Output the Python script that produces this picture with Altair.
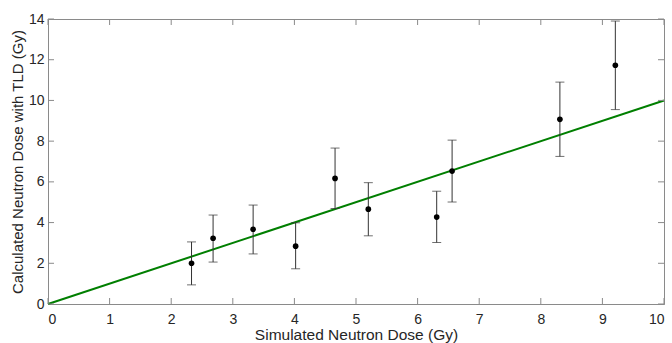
import altair as alt
import pandas as pd

sim_dose = [2.33, 2.68, 3.33, 4.02, 4.66, 5.20, 6.31, 6.56, 8.31, 9.21]
tld_dose = [2.00, 3.23, 3.67, 2.84, 6.17, 4.66, 4.27, 6.53, 9.07, 11.73]
err_low = [0.94, 2.06, 2.46, 1.73, 4.69, 3.35, 3.02, 5.01, 7.25, 9.55]
err_high = [3.05, 4.37, 4.86, 3.99, 7.66, 5.96, 5.54, 8.05, 10.90, 13.90]
fit_x = [0, 10]
fit_y = [0, 10]
x_ticks = [0, 1, 2, 3, 4, 5, 6, 7, 8, 9, 10]
y_ticks = [0, 2, 4, 6, 8, 10, 12, 14]

df = pd.DataFrame({"x": sim_dose, "y": tld_dose, "lo": err_low, "hi": err_high})
fit = pd.DataFrame({"x": fit_x, "y": fit_y})
xt = pd.DataFrame({"v": x_ticks})
yt = pd.DataFrame({"v": y_ticks})

FONT = "Liberation Sans"
AX = "#8a8a8a"
TXT = "#262626"

xs = alt.Scale(domain=[0, 10], nice=False, zero=False)
ys = alt.Scale(domain=[0, 14], nice=False, zero=False)

xaxis = alt.Axis(values=x_ticks, format="d", grid=False, ticks=False, domainColor=AX,
                 labelFont=FONT, labelFontSize=14, labelColor=TXT, labelPadding=8,
                 title="Simulated Neutron Dose (Gy)", titleFont=FONT, titleFontSize=15.5,
                 titleFontWeight="normal", titleColor=TXT, titlePadding=1)
yaxis = alt.Axis(values=y_ticks, format="d", grid=False, ticks=False, domainColor=AX,
                 labelFont=FONT, labelFontSize=14, labelColor=TXT, labelPadding=4,
                 title="Calculated Neutron Dose with TLD (Gy)", titleFont=FONT, titleFontSize=15,
                 titleFontWeight="normal", titleColor=TXT, titlePadding=3)

line = alt.Chart(fit).mark_line(color="#007f00", strokeWidth=2).encode(
    x=alt.X("x:Q", scale=xs, axis=xaxis),
    y=alt.Y("y:Q", scale=ys, axis=yaxis),
)

rules = alt.Chart(df).mark_rule(color="#333333", strokeWidth=1).encode(
    x="x:Q", y="lo:Q", y2="hi:Q")
cap_lo = alt.Chart(df).mark_tick(color="#333333", thickness=1, size=9, orient="horizontal").encode(
    x="x:Q", y="lo:Q")
cap_hi = alt.Chart(df).mark_tick(color="#333333", thickness=1, size=9, orient="horizontal").encode(
    x="x:Q", y="hi:Q")
pts = alt.Chart(df).mark_circle(color="black", size=32, opacity=1).encode(x="x:Q", y="y:Q")

tick_style = dict(color=AX, thickness=1, size=6, opacity=1)
xb = alt.Chart(xt).mark_tick(orient="vertical", **tick_style).encode(
    x="v:Q", y=alt.datum(0), yOffset=alt.value(-3))
xtp = alt.Chart(xt).mark_tick(orient="vertical", **tick_style).encode(
    x="v:Q", y=alt.datum(14), yOffset=alt.value(3))
yl = alt.Chart(yt).mark_tick(orient="horizontal", **tick_style).encode(
    y="v:Q", x=alt.datum(0), xOffset=alt.value(3))
yr = alt.Chart(yt).mark_tick(orient="horizontal", **tick_style).encode(
    y="v:Q", x=alt.datum(10), xOffset=alt.value(-3))

chart = alt.layer(line, xb, xtp, yl, yr, rules, cap_lo, cap_hi, pts).properties(
    width=616, height=285,
    autosize=alt.AutoSizeParams(type="none"),
    padding={"left": 48, "top": 19, "right": 8, "bottom": 39},
    background="white",
).configure_view(stroke=AX, strokeWidth=1)

chart.save("out.html", embed_options={"renderer": "svg", "actions": False})
